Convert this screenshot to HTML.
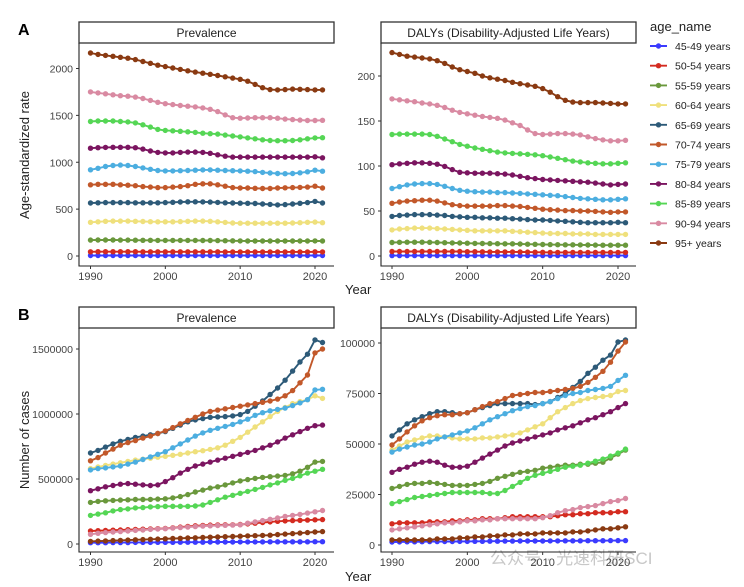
<!DOCTYPE html>
<html><head><meta charset="utf-8"><style>
body{margin:0;background:#fff;}
svg{display:block;font-family:"Liberation Sans",Arial,sans-serif;}
</style></head><body>
<svg id="chart" width="744" height="587" viewBox="0 0 744 587" xmlns="http://www.w3.org/2000/svg">
<text x="18" y="35" font-size="16" font-weight="bold">A</text>
<text x="18" y="320" font-size="16" font-weight="bold">B</text>
<text transform="translate(29,155) rotate(-90)" text-anchor="middle" font-size="13" fill="#222">Age-standardized rate</text>
<text transform="translate(29,440) rotate(-90)" text-anchor="middle" font-size="13" fill="#222">Number of cases</text>
<text x="345" y="294" font-size="13" fill="#222">Year</text>
<text x="345" y="581" font-size="13" fill="#222">Year</text>
<text x="490" y="564" font-size="17" fill="#c8c8c8">公众号 · 光速科研SCI</text>
<text x="650" y="31" font-size="13" fill="#222">age_name</text>
</svg>
<script>
const years = [];
for (let y = 1990; y <= 2021; y++) years.push(y);
const ageGroups = ["45-49 years","50-54 years","55-59 years","60-64 years","65-69 years","70-74 years","75-79 years","80-84 years","85-89 years","90-94 years","95+ years"];
const colors = ["#3b3bff","#d42b20","#6a983c","#efe07c","#2d5a78","#c2582a","#4caee0","#7b1560","#55d655","#d98aa2","#8a3a12"];

// Panel A left: age-standardized prevalence rate
const rateP45 = [5,5,5,5,5,5,5,5,5,5, 5,5,5,5,5,5,5,5,5,5, 5,5,5,5,5,5,5,5,5,5, 5,5];
const rateP50 = [45,46,46,46,46,46,46,45,45,45, 45,45,45,45,45,45,45,45,44,44, 44,44,44,44,44,44,44,44,44,44, 45,44];
const rateP55 = [170,171,171,171,170,170,169,168,167,166, 166,166,166,166,166,165,165,164,163,162, 161,160,160,160,160,160,160,160,160,160, 161,160];
const rateP60 = [360,365,370,372,372,372,370,368,366,365, 365,365,367,370,372,372,370,365,358,352, 350,350,350,350,350,350,350,352,355,360, 362,355];
const rateP65 = [565,568,570,570,570,570,568,567,567,568, 570,573,576,578,578,577,575,572,568,565, 563,562,560,555,550,545,548,555,562,570, 582,565];
const rateP70 = [760,765,765,765,760,755,750,740,735,730, 730,735,740,750,765,770,770,760,745,730, 725,725,722,720,720,725,728,730,732,735, 745,725];
const rateP75 = [920,935,955,965,970,965,955,940,925,912, 908,908,910,912,915,918,918,915,912,910, 908,905,900,892,885,880,878,880,888,898, 915,905];
const rateP80 = [1150,1155,1158,1160,1160,1160,1155,1140,1120,1105, 1100,1100,1105,1108,1108,1105,1095,1080,1065,1055, 1055,1055,1055,1055,1055,1055,1055,1055,1055,1055, 1058,1048];
const rateP85 = [1435,1440,1440,1440,1435,1430,1420,1400,1375,1350, 1340,1335,1330,1325,1318,1310,1305,1300,1290,1280, 1270,1260,1250,1240,1232,1230,1230,1232,1240,1250, 1260,1262];
const rateP90 = [1750,1740,1730,1720,1710,1705,1695,1680,1660,1640, 1625,1615,1605,1598,1590,1580,1565,1540,1505,1475, 1470,1472,1475,1475,1475,1470,1460,1455,1450,1445, 1445,1448];
const rateP95 = [2165,2150,2140,2130,2120,2110,2095,2075,2055,2035, 2020,2005,1990,1975,1962,1950,1938,1925,1912,1898, 1885,1865,1830,1795,1775,1772,1775,1780,1778,1775, 1772,1772];

// Panel A right: age-standardized DALY rate
const rateD45 = [0.5,0.5,0.5,0.5,0.5,0.5,0.5,0.5,0.5,0.5, 0.5,0.5,0.5,0.5,0.5,0.5,0.5,0.5,0.5,0.5, 0.5,0.5,0.5,0.5,0.5,0.5,0.5,0.5,0.5,0.5, 0.5,0.5];
const rateD50 = [5,5,5,5,5,5,5,5,5,5, 4.8,4.8,4.7,4.6,4.6,4.5,4.5,4.4,4.3,4.2, 4.1,4,4,4,4,4,4,4,4,4, 4,4];
const rateD55 = [15,15.2,15.3,15.3,15.3,15.2,15,14.8,14.6,14.4, 14.2,14,13.9,13.8,13.7,13.6,13.5,13.3,13.1,13, 12.8,12.7,12.6,12.5,12.4,12.3,12.2,12.1,12,12, 12,12];
const rateD60 = [29,30,30.5,31,31,31,30.5,30,29.5,29, 28.5,28,28,28,28,28,27.5,27,26.5,26, 25.5,25,25,25,24.5,24.5,24.5,24,24,24, 24,24];
const rateD65 = [44,45,45.5,46,46,46,45.5,45,44,43.5, 43,43,42.5,42.5,42,42,41.5,41,40.5,40, 40,39.5,39,38.5,38,37.5,37,37,37,37, 37.5,37];
const rateD70 = [58.5,60,61,61.5,62,62,61,59,57,56, 55.5,55.5,55.5,55.5,56,56,55.5,55,54,53, 52,51.5,51,50.5,50.5,50,50,49.5,49,48.5, 49,49];
const rateD75 = [75,77,79,80,80.5,80.5,79.5,77.5,75,73, 72,71.5,71,71,70.5,70.5,70,69.5,69,68.5, 68,67.5,67,66,65,64,63.5,63,62.5,62.5, 63,63.5];
const rateD80 = [101.5,102.5,103,103.5,103.5,103,102,99.5,96,93, 92.5,92,92,92,91.5,91,90,88.5,87,86, 85,84.5,84,83.5,83,82.5,82,81,80,79, 79.5,80];
const rateD85 = [135,135.5,135.5,135.5,135.5,135,133,130,127,124, 122,120,118.5,117,115.5,114.5,114,113.5,113,112.5, 111.5,110,108.5,107,105.5,104.5,103.5,103,102.5,102.5, 103,103.5];
const rateD90 = [174.5,173.5,172.5,171.5,170,169,167.5,165,162,159.5, 158,156.5,155,154,153,151,148,145,140,136, 135,135.5,136,136,135.5,134.5,132.5,130.5,129,128, 128,128.5];
const rateD95 = [226,224,222,221,220,219,217,214,210,207, 205,203,200,198,196.5,195,193,191.5,190,188.5, 186,182,177,173,171,170.5,170.5,170.5,170,169.5, 169,169];

// Panel B left: prevalent cases
const caseP45 = [10000,10000,10000,11000,11000,11000,12000,12000,12000,13000, 13000,13000,14000,14000,14000,14000,15000,15000,15000,15000, 16000,16000,16000,16000,17000,17000,17000,17000,17000,17000, 18000,18000];
const caseP50 = [100000,102000,104000,106000,108000,110000,112000,114000,116000,118000, 120000,125000,130000,135000,140000,143000,145000,147000,148000,148000, 150000,155000,160000,165000,170000,175000,178000,180000,182000,184000, 186000,188000];
const caseP55 = [320000,328000,332000,335000,338000,340000,342000,342000,343000,345000, 348000,355000,365000,380000,400000,415000,430000,440000,455000,470000, 485000,495000,505000,512000,518000,522000,528000,540000,560000,590000, 630000,635000];
const caseP60 = [580000,592000,605000,615000,625000,635000,645000,652000,660000,668000, 675000,682000,690000,700000,710000,718000,728000,740000,760000,790000, 820000,860000,900000,940000,980000,1020000,1050000,1080000,1095000,1110000, 1140000,1120000];
const caseP65 = [700000,720000,745000,770000,790000,805000,820000,830000,840000,850000, 865000,890000,915000,940000,955000,965000,975000,978000,980000,985000, 995000,1020000,1060000,1100000,1150000,1200000,1260000,1330000,1400000,1460000, 1570000,1550000];
const caseP70 = [640000,665000,700000,730000,760000,780000,795000,815000,830000,850000, 870000,895000,925000,950000,975000,1000000,1020000,1030000,1040000,1050000, 1060000,1070000,1080000,1090000,1100000,1115000,1140000,1180000,1240000,1300000, 1470000,1500000];
const caseP75 = [570000,580000,585000,593000,600000,615000,630000,650000,670000,690000, 710000,740000,770000,800000,830000,855000,875000,890000,905000,920000, 940000,960000,990000,1010000,1025000,1035000,1045000,1065000,1085000,1110000, 1185000,1190000];
const caseP80 = [410000,425000,440000,450000,460000,465000,460000,455000,450000,455000, 480000,510000,545000,575000,600000,615000,630000,645000,660000,675000, 690000,705000,720000,740000,760000,785000,815000,840000,865000,890000, 910000,915000];
const caseP85 = [220000,230000,240000,255000,265000,270000,278000,280000,285000,288000, 290000,290000,290000,290000,292000,300000,320000,340000,360000,375000, 390000,405000,420000,435000,455000,470000,490000,505000,525000,545000, 560000,575000];
const caseP90 = [75000,82000,88000,92000,95000,100000,105000,108000,112000,115000, 118000,122000,126000,130000,134000,138000,140000,142000,144000,145000, 148000,160000,170000,180000,190000,200000,212000,220000,228000,238000, 248000,258000];
const caseP95 = [20000,22000,24000,26000,28000,30000,32000,34000,36000,38000, 40000,42000,44000,46000,48000,50000,52000,54000,56000,58000, 60000,62000,64000,66000,68000,72000,76000,80000,84000,88000, 92000,95000];

// Panel B right: DALY counts
const caseD45 = [1500,1550,1600,1600,1650,1700,1700,1750,1750,1800, 1800,1850,1850,1900,1900,1950,1950,2000,2000,2000, 2000,2050,2050,2100,2100,2100,2150,2150,2150,2200, 2200,2200];
const caseD50 = [10500,11000,11000,11000,11000,11500,11500,11500,12000,12000, 12500,12500,13000,13000,13000,13500,14000,14000,14000,14000, 14000,14000,14500,15000,15000,15500,15500,16000,16000,16000, 16500,16500];
const caseD55 = [28000,29000,30000,30500,30500,31000,30500,30000,29500,29500, 29500,30000,30500,31500,33000,34000,35000,36000,36500,37000, 38000,38500,39000,39500,39500,40000,40000,40500,41000,43000, 45000,47000];
const caseD60 = [47000,49000,51000,52000,53000,54000,54000,53500,53000,52500, 52500,52500,53000,53000,53500,54000,54500,55500,57000,58500, 60000,63000,66000,68000,70000,71500,72500,73000,73500,74000, 76000,76500];
const caseD65 = [54000,57000,60000,62000,63500,65000,66000,66000,65500,65000, 65500,67000,68000,69000,70000,70000,70000,70000,70000,69500, 70000,71000,73000,75000,78000,81000,85000,88000,91500,94000, 100500,101500];
const caseD70 = [49500,52500,56000,59000,61500,63000,64000,64500,64500,65000, 65500,67000,68500,70000,71000,72500,74000,74500,75000,75500, 75500,76000,76500,77000,77500,78500,80500,83000,86000,90500, 96000,100500];
const caseD75 = [46000,47500,48500,49500,50000,51000,52500,53500,54500,55500, 56500,58000,60000,62000,63500,65000,66500,67500,68500,69000, 70000,71000,72500,74000,75000,75500,76500,77000,77500,78500, 81500,84000];
const caseD80 = [36000,37500,38500,40000,41000,41500,41000,39500,38500,38500, 39000,41000,43000,45000,47000,49000,50500,51500,52500,53500, 54500,55500,57000,58000,59000,60500,62000,63000,64500,66000, 68000,70000];
const caseD85 = [20500,21500,22500,23500,24000,24500,25000,25500,26000,26000, 26000,26000,26000,25500,25500,27000,29000,31000,33000,34500, 35500,36500,37500,38500,39000,39500,40500,41500,42500,44000, 45500,47500];
const caseD90 = [7500,8000,8500,9000,9500,10000,10500,11000,11000,11500, 12000,12000,12500,12500,13000,13000,13000,13000,13000,13000, 13500,14500,16000,17000,17500,18500,19000,19500,20500,21500, 22000,23000];
const caseD95 = [2500,2500,2500,2500,2500,2500,3000,3000,3000,3500, 3500,4000,4000,4500,4500,5000,5000,5500,5500,5500, 6000,6000,6000,6000,6500,6500,7000,7500,8000,8000, 8500,9000];

const xTicks = [1990,2000,2010,2020];
const ticksRateP = [0,500,1000,1500,2000];
const ticksRateD = [0,50,100,150,200];
const ticksCaseP = [0,500000,1000000,1500000];
const ticksCaseD = [0,25000,50000,75000,100000];

const NS = "http://www.w3.org/2000/svg";
const svg = document.getElementById("chart");
function mk(tag, attrs, parent) {
  const el = document.createElementNS(NS, tag);
  for (const k in attrs) el.setAttribute(k, attrs[k]);
  (parent || svg).appendChild(el);
  return el;
}

const panels = [
  {key:"rate-prevalence", title:"Prevalence", L:79, R:334, T:43, B:266, x1990:90.5, x2020:315, y0:256, yRef:2000, yRefPx:68.5, ticks:ticksRateP,
   series:[rateP45,rateP50,rateP55,rateP60,rateP65,rateP70,rateP75,rateP80,rateP85,rateP90,rateP95]},
  {key:"rate-dalys", title:"DALYs (Disability-Adjusted Life Years)", L:381, R:636, T:43, B:266, x1990:392, x2020:618, y0:256, yRef:200, yRefPx:76, ticks:ticksRateD,
   series:[rateD45,rateD50,rateD55,rateD60,rateD65,rateD70,rateD75,rateD80,rateD85,rateD90,rateD95]},
  {key:"cases-prevalence", title:"Prevalence", L:79, R:334, T:328, B:552, x1990:90.5, x2020:315, y0:544, yRef:1500000, yRefPx:349, ticks:ticksCaseP,
   series:[caseP45,caseP50,caseP55,caseP60,caseP65,caseP70,caseP75,caseP80,caseP85,caseP90,caseP95]},
  {key:"cases-dalys", title:"DALYs (Disability-Adjusted Life Years)", L:381, R:636, T:328, B:552, x1990:392, x2020:618, y0:545, yRef:100000, yRefPx:343, ticks:ticksCaseD,
   series:[caseD45,caseD50,caseD55,caseD60,caseD65,caseD70,caseD75,caseD80,caseD85,caseD90,caseD95]}
];

panels.forEach(p => {
  const g = mk("g", {});
  
  
  const xs = yr => p.x1990 + (yr - 1990) * (p.x2020 - p.x1990) / 30;
  const ys = v => p.y0 - v * (p.y0 - p.yRefPx) / p.yRef;
  const strip = mk("rect", {x:p.L, y:p.T-21, width:p.R-p.L, height:21, fill:"#fff", stroke:"#333", "stroke-width":1.3}, g);
  
  
  const st = mk("text", {x:(p.L+p.R)/2, y:p.T-6, "text-anchor":"middle", "font-size":12, fill:"#222"}, g);
  st.textContent = p.title;
  
  
  const ax = mk("path", {d:`M${p.L},${p.T} V${p.B} H${p.R}`, fill:"none", stroke:"#222", "stroke-width":1.1}, g);
  
  
  p.ticks.forEach(t => {
    const y = ys(t);
    mk("line", {x1:p.L-3, x2:p.L, y1:y, y2:y, stroke:"#333", "stroke-width":1}, g);
    const tl = mk("text", {x:p.L-6, y:y+4, "text-anchor":"end", "font-size":10.5, fill:"#444"}, g);
    tl.textContent = t;
    
    
  });
  xTicks.forEach(t => {
    const x = xs(t);
    mk("line", {x1:x, x2:x, y1:p.B, y2:p.B+3, stroke:"#333", "stroke-width":1}, g);
    const tl = mk("text", {x:x, y:p.B+14, "text-anchor":"middle", "font-size":11, fill:"#444"}, g);
    tl.textContent = t;
    
    
  });
  p.series.forEach((vals, si) => {
    const sg = mk("g", {}, g);
    
    
    const d = vals.map((v, i) => (i ? "L" : "M") + xs(years[i]).toFixed(1) + "," + ys(v).toFixed(1)).join(" ");
    mk("path", {d:d, fill:"none", stroke:colors[si], "stroke-width":1.9, "stroke-linejoin":"round"}, sg);
    vals.forEach((v, i) => {
      const c = mk("circle", {cx:xs(years[i]).toFixed(1), cy:ys(v).toFixed(1), r:2.7, fill:colors[si]}, sg);
      
      
    });
  });
});

ageGroups.forEach((name, i) => {
  const y = 46 + i * 19.7;
  const lg = mk("g", {});
  
  
  mk("line", {x1:650, x2:667, y1:y, y2:y, stroke:colors[i], "stroke-width":1.9}, lg);
  mk("circle", {cx:658.5, cy:y, r:2.7, fill:colors[i]}, lg);
  const t = mk("text", {x:675, y:y+4, "font-size":10.5, fill:"#222"}, lg);
  t.textContent = name;
});
</script>
</body></html>
